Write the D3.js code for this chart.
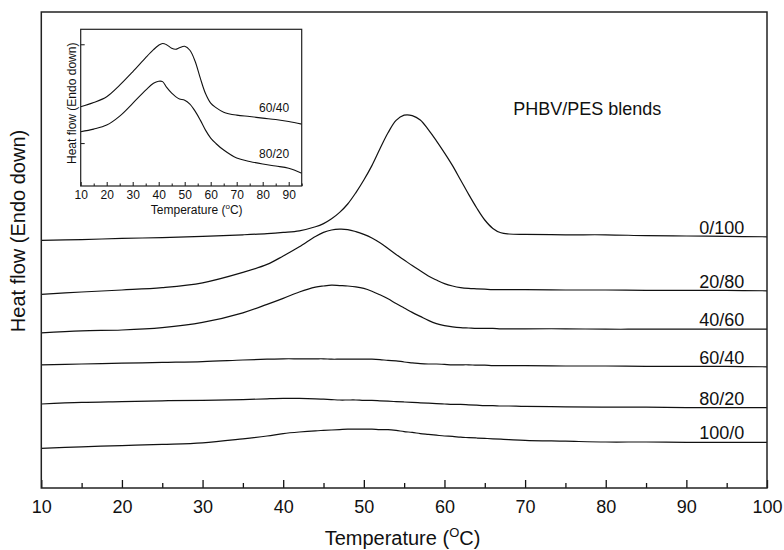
<!DOCTYPE html>
<html>
<head>
<meta charset="utf-8">
<script src="https://cdn.jsdelivr.net/npm/d3@7"></script>
<style>
  html, body { margin: 0; padding: 0; background: #fff; }
  svg { display: block; font-family: "Liberation Sans", Arial, Helvetica, sans-serif; }
</style>
</head>
<body>
<svg id="chart" width="784" height="550"></svg>
<script>
// ---------- DATA ----------
const temps = [10,15,20,25,30,35,38,40,42,44,45,46,47,48,49,50,51,52,53,54,55,56,57,58,59,60,61,62,63,64,65,66,67,68,70,75,80,85,90,95,100];

const blend0_100 = [61.9,62.1,62.4,62.6,62.9,63.3,63.6,63.9, 64.3,65.3,66.1,67.3,68.9,71.0,73.8,77.0, 80.6,84.8,88.8,91.9,93.2,93.1,92.0,89.6,86.8,83.8, 80.6,77.0,73.4,70.0,67.0,64.9,63.8,63.5, 63.4,63.3,63.3,63.1,63.0,62.9,62.8];
const blend20_80 = [48.4,49.0,49.5,50.1,51.3,53.9,55.9,58.0, 60.3,62.9,63.9,64.5,64.7,64.6,64.1,63.4, 62.5,61.3,59.9,58.4,57.0,55.6,54.3,53.0,52.0,51.1, 50.5,50.1,49.9,49.8,49.7,49.6,49.6,49.6, 49.6,49.5,49.5,49.4,49.4,49.4,49.3];
const blend40_60 = [38.8,39.3,39.5,40.1,41.4,43.8,45.9,47.4, 49.0,50.2,50.5,50.7,50.6,50.5,50.3,49.9, 49.2,48.3,47.3,46.1,45.0,43.9,42.9,41.9,41.1,40.6, 40.3,40.1,40.0,39.9,39.9,39.9,39.8,39.8, 39.8,39.8,39.7,39.7,39.7,39.7,39.7];
const blend60_40 = [30.8,31.0,31.2,31.4,31.6,32.0,32.2,32.3, 32.3,32.3,32.3,32.2,32.2,32.2,32.2,32.2, 32.2,32.1,31.9,31.8,31.5,31.3,31.1,31.0,31.0,30.9, 30.8,30.8,30.8,30.7,30.7,30.6,30.6,30.6, 30.6,30.5,30.5,30.4,30.4,30.4,30.3];
const blend80_20 = [21.0,21.4,21.6,21.8,21.9,22.1,22.3,22.4, 22.4,22.3,22.2,22.1,22.0,22.0,22.0,21.9, 21.9,21.8,21.7,21.6,21.5,21.4,21.3,21.2,21.1,21.0, 20.9,20.9,20.8,20.7,20.6,20.6,20.5,20.5, 20.4,20.3,20.2,20.2,20.1,20.1,20.1];
const blend100_0 = [9.9,10.3,10.6,10.9,11.3,12.3,13.0,13.6, 14.0,14.3,14.4,14.5,14.6,14.7,14.7,14.7, 14.7,14.6,14.6,14.4,14.1,13.9,13.6,13.4,13.2,13.0, 12.9,12.7,12.6,12.5,12.4,12.3,12.2,12.1, 11.9,11.7,11.5,11.5,11.4,11.4,11.4];

const seriesNames = ["0/100","20/80","40/60","60/40","80/20","100/0"];
const seriesValues = [blend0_100, blend20_80, blend40_60, blend60_40, blend80_20, blend100_0];

const xTicks = [10,20,30,40,50,60,70,80,90,100];
const xMinorTicks = [15,25,35,45,55,65,75,85,95];

// inset data
const insetTemps = [10,15,20,25,30,35,38,40,41.5,43,45,46.5,48,50,52,54,56,58,60,62,65,70,75,80,85,90,95];
const inset60_40 = [39.7,41.8,44.7,50.5,57.2,64.3,68.3,70.5, 71.4,70.8,69.0,68.5,69.3,70.0, 68.0,62.5,54.0,46.3,41.5,39.3, 37.0,35.5,34.8,34.0,33.3,32.3,31.0];
const inset80_20 = [27.2,28.5,30.5,35.0,41.4,48.0,51.5,52.5, 52.3,49.5,46.5,44.8,43.6,43.0, 41.0,37.5,33.0,28.0,24.0,21.3, 18.0,14.0,12.3,11.0,10.0,8.9,6.4];
const insetNames = ["60/40","80/20"];
const insetValues = [inset60_40, inset80_20];
const insetXTicks = [10,20,30,40,50,60,70,80,90];
const insetXMinorTicks = [15,25,35,45,55,65,75,85,95];
const insetYTicks = [21.5, 71];

// ---------- LAYOUT ----------
const svg = d3.select("#chart");
const P = { left: 41.3, right: 767, top: 12, bottom: 488 };
const x = d3.scaleLinear().domain([10, 100]).range([P.left, P.right]);
const y = d3.scaleLinear().domain([0, 119]).range([P.bottom, P.top]);

const ink = "#111";
const curve = d3.curveCatmullRom.alpha(0.5);

// curves
const line = d3.line().curve(curve).x(d => x(d[0])).y(d => y(d[1]));
seriesValues.forEach((vals, i) => {
  const pts = temps.map((t, j) => [t, vals[j]]);
  svg.append("path").datum(pts)
    .attr("d", line).attr("fill", "none").attr("stroke", ink).attr("stroke-width", 1.2);
  svg.append("text")
    .attr("x", x(94.4)).attr("y", y(vals[vals.length - 1]) - 3)
    .attr("text-anchor", "middle").attr("font-size", 18).attr("fill", ink)
    .text(seriesNames[i]);
});

// axes
const xAxis = d3.axisBottom(x).tickValues(xTicks).tickSize(-8).tickPadding(12).tickFormat(d3.format("d"));
const gx = svg.append("g").attr("transform", `translate(0,${P.bottom})`).call(xAxis);
gx.select(".domain").remove();
gx.selectAll("line").attr("stroke", ink).attr("stroke-width", 1.3);
gx.selectAll("text").attr("font-size", 18).attr("fill", ink).attr("font-family", null);

const xMinor = d3.axisBottom(x).tickValues(xMinorTicks).tickSize(-5).tickFormat("");
const gxm = svg.append("g").attr("transform", `translate(0,${P.bottom})`).call(xMinor);
gxm.select(".domain").remove();
gxm.selectAll("line").attr("stroke", ink).attr("stroke-width", 1.3);

// frame
svg.append("rect")
  .attr("x", P.left).attr("y", P.top)
  .attr("width", P.right - P.left).attr("height", P.bottom - P.top)
  .attr("fill", "none").attr("stroke", "#222").attr("stroke-width", 1.5);

// axis titles
const xt = svg.append("text").attr("x", 402.5).attr("y", 545)
  .attr("text-anchor", "middle").attr("font-size", 20).attr("fill", ink);
xt.append("tspan").text("Temperature (");
xt.append("tspan").attr("font-size", 13).attr("dy", -8).text("O");
xt.append("tspan").attr("dy", 8).text("C)");

svg.append("text")
  .attr("transform", "translate(25,231) rotate(-90)")
  .attr("text-anchor", "middle").attr("font-size", 20).attr("fill", ink)
  .text("Heat flow (Endo down)");

svg.append("text")
  .attr("x", x(77.7)).attr("y", 115)
  .attr("text-anchor", "middle").attr("font-size", 18).attr("fill", ink)
  .text("PHBV/PES blends");

// ---------- INSET ----------
const I = { left: 80.7, right: 301.7, top: 29.3, bottom: 186 };
const ix = d3.scaleLinear().domain([10, 95]).range([I.left, I.right]);
const iy = d3.scaleLinear().domain([0, 78.5]).range([I.bottom, I.top]);

svg.append("rect")
  .attr("x", I.left).attr("y", I.top)
  .attr("width", I.right - I.left).attr("height", I.bottom - I.top)
  .attr("fill", "#fff").attr("stroke", "none");

const iline = d3.line().curve(curve).x(d => ix(d[0])).y(d => iy(d[1]));
insetValues.forEach((vals, i) => {
  const pts = insetTemps.map((t, j) => [t, vals[j]]);
  svg.append("path").datum(pts)
    .attr("d", iline).attr("fill", "none").attr("stroke", ink).attr("stroke-width", 1.1);
  const k = insetTemps.indexOf(85);
  svg.append("text")
    .attr("x", ix(84.4)).attr("y", iy(vals[k]) - 8)
    .attr("text-anchor", "middle").attr("font-size", 12).attr("fill", ink)
    .text(insetNames[i]);
});

const ixAxis = d3.axisBottom(ix).tickValues(insetXTicks).tickSize(-4).tickPadding(4.5).tickFormat(d3.format("d"));
const gix = svg.append("g").attr("transform", `translate(0,${I.bottom})`).call(ixAxis);
gix.select(".domain").remove();
gix.selectAll("line").attr("stroke", ink).attr("stroke-width", 1);
gix.selectAll("text").attr("font-size", 12).attr("fill", ink).attr("font-family", null);

const ixMinor = d3.axisBottom(ix).tickValues(insetXMinorTicks).tickSize(-2.5).tickFormat("");
const gixm = svg.append("g").attr("transform", `translate(0,${I.bottom})`).call(ixMinor);
gixm.select(".domain").remove();
gixm.selectAll("line").attr("stroke", ink).attr("stroke-width", 1);

const iyAxis = d3.axisLeft(iy).tickValues(insetYTicks).tickSize(-4).tickFormat("");
const giy = svg.append("g").attr("transform", `translate(${I.left},0)`).call(iyAxis);
giy.select(".domain").remove();
giy.selectAll("line").attr("stroke", ink).attr("stroke-width", 1);

svg.append("rect")
  .attr("x", I.left).attr("y", I.top)
  .attr("width", I.right - I.left).attr("height", I.bottom - I.top)
  .attr("fill", "none").attr("stroke", "#222").attr("stroke-width", 1.2);

const ixt = svg.append("text").attr("x", 196.7).attr("y", 214)
  .attr("text-anchor", "middle").attr("font-size", 12).attr("fill", ink);
ixt.append("tspan").text("Temperature (");
ixt.append("tspan").attr("font-size", 8).attr("dy", -5).text("o");
ixt.append("tspan").attr("dy", 5).text("C)");

svg.append("text")
  .attr("transform", "translate(75.5,103.3) rotate(-90)")
  .attr("text-anchor", "middle").attr("font-size", 12).attr("fill", ink)
  .text("Heat flow (Endo down)");
</script>
</body>
</html>
